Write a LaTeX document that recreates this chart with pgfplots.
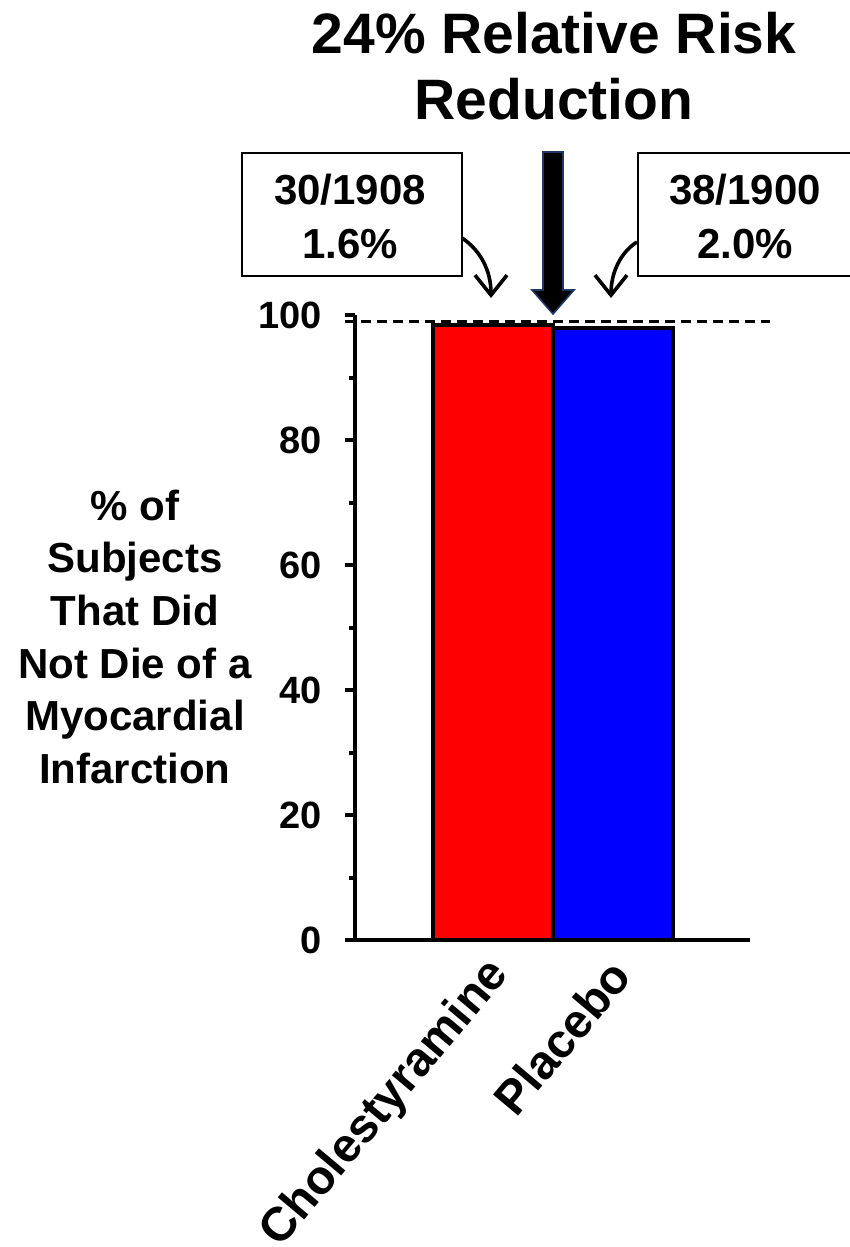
\documentclass[border=0pt]{standalone}
\usepackage{fontspec}
\setmainfont{Liberation Sans}
\usepackage{pgfplots}
\pgfplotsset{compat=1.18}
\usetikzlibrary{arrows.meta}
\definecolor{navy}{HTML}{1F3864}

\begin{document}
\begin{tikzpicture}
\path[use as bounding box] (0,0) rectangle (425pt,-623.5pt);
\begin{axis}[
  at={(177.5pt,-470pt)}, anchor=south west,
  scale only axis, width=197.5pt, height=312.5pt,
  xmin=-1.15, xmax=2.142, ymin=0, ymax=100,
  axis x line=bottom, axis y line=left,
  axis line style={-, line width=2pt, black},
  x axis line style={shorten <=-4pt},
  clip=false,
  ytick={0,20,40,60,80,100}, yticklabels={0,20,40,60,80,100},
  minor ytick={10,30,50,70,90},
  tick align=outside,
  major tick length=5pt, minor tick length=3pt,
  y tick style={line width=2pt, black},
  xtick={0,1}, xticklabels={Cholestyramine,Placebo},
  x tick style={draw=none},
  yticklabel style={font=\fontsize{19}{23}\selectfont\bfseries, xshift=-8pt},
  xticklabel style={font=\fontsize{23.8}{28}\selectfont\bfseries, xshift=6pt, yshift=-6pt, rotate=50, anchor=east},
  ylabel={\% of\\Subjects\\That Did\\Not Die of a\\Myocardial\\Infarction},
  ylabel style={rotate=-90, align=center, inner sep=0pt,
    font=\fontsize{21}{26.3}\selectfont\bfseries,
    at={(axis description cs:-0.557,0.485)}, anchor=center},
  title={24\% Relative Risk\\Reduction},
  title style={align=center, inner sep=0pt,
    font=\fontsize{28.5}{33}\selectfont\bfseries,
    at={(axis description cs:0.504,1.4656)}, anchor=north},
]
\addplot[ybar, bar width=60pt, bar shift=0pt, fill=red, draw=black, line width=2pt] coordinates {(0,98.4)};
\addplot[ybar, bar width=60pt, bar shift=0pt, fill=blue, draw=black, line width=2pt] coordinates {(1,98.0)};
\addplot[black, line width=1.5pt, dash pattern=on 5pt off 3pt] coordinates {(-1.233,98.9) (2.31,98.9)};
\end{axis}
\begin{scope}[x=0.5pt, y=-0.5pt]
\draw[line width=1.2pt, fill=white] (242,153) rectangle (462,276);
\node[align=center, inner sep=0pt, font=\fontsize{21}{27}\selectfont\bfseries] at (350,216) {30/1908\\1.6\%};
\draw[line width=1.2pt, fill=white] (638,153) rectangle (870,276);
\node[align=center, inner sep=0pt, font=\fontsize{21}{27}\selectfont\bfseries] at (745,216) {38/1900\\2.0\%};
\filldraw[fill=black, draw=navy, line width=0.8pt] (543,152) -- (563,152) -- (563,290) -- (574,290) -- (553,314) -- (532,290) -- (543,290) -- cycle;
\draw[line width=1.8pt, -{Straight Barb[length=10pt, width=16pt]}] (462,238) .. controls (480,250) and (491,270) .. (491,298);
\draw[line width=1.8pt, -{Straight Barb[length=10pt, width=16pt]}] (637,242) .. controls (621,252) and (611,272) .. (611,298);
\end{scope}
\end{tikzpicture}
\end{document}
